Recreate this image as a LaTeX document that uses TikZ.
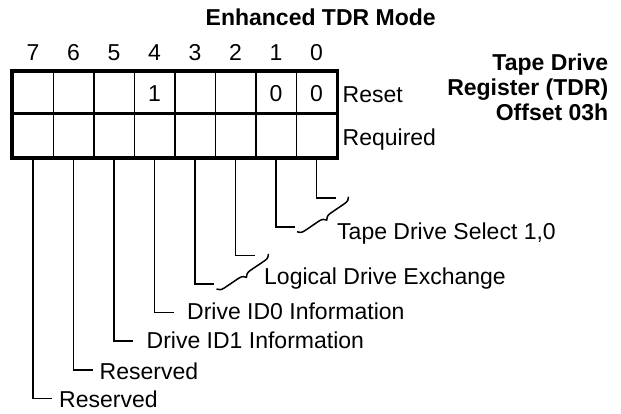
\documentclass[tikz,border=0pt]{standalone}
\usepackage{fontspec}
\setmainfont{Liberation Sans}
\usetikzlibrary{positioning}
\usetikzlibrary{calc}
\usetikzlibrary{decorations.pathreplacing}
\tikzset{
    % Thin rule for the cell walls and the bit leaders
    thin rule/.style={line width=1.5pt},
%
    % Heavy rule for the outline of the register
    heavy rule/.style={line width=3.5pt},
%
    % Curly brace pulling two bit leaders together
    leader brace/.style={thin rule, decorate,
        decoration={brace, amplitude=7pt}}}

\begin{document}
\begin{tikzpicture}[x=1pt, y=-1pt,
    bit cell/.style={draw, thin rule, anchor=north west, inner sep=0pt,
        minimum width=40.5pt, minimum height=42.7pt},
    bit number/.style={inner sep=0pt},
    field name/.style={anchor=base west, inner sep=0pt}]
\fontsize{23}{25}\selectfont
\useasboundingbox (0,0) rectangle (621,413);

% Headings over and beside the register
\node[anchor=base west, inner sep=0pt, font=\bfseries]
    at (205.5,25) (mode) {Enhanced TDR Mode};
\node[anchor=north east, align=right, inner sep=0pt, font=\bfseries]
    at (608.5,53.5) (tdr) {Tape Drive\\Register (TDR)\\Offset 03h};


% Two rows of eight bit cells, bit 7 on the left
\foreach \b/\v in {7/,6/,5/,4/1,3/,2/,1/0,0/0} {
    \node[bit cell] at ({12+40.5*(7-\b)},71) (reset \b) {\v};
    \node[bit cell] at ({12+40.5*(7-\b)},113.7) (req \b) {};
    \node[bit number, above=10pt of reset \b] (num \b) {\b};
}
\draw[heavy rule] (reset 7.north west) rectangle (req 0.south east);
\draw[heavy rule] (req 7.north west) -- (req 0.north east);

\node[field name] at ($(reset 0.east)+(5,9.5)$) (reset name) {Reset};
\node[field name] at ($(req 0.east)+(5,9.5)$) (req name) {Required};


% Leaders dropping from each bit
\foreach \b in {0,...,7} {
    \coordinate (turn \b) at ($(req \b.south)+(0,{40.3+28.6*\b})$);
    \coordinate (hook \b) at ($(turn \b)+(19,0)$);
    \draw[thin rule] (req \b.south) -- (turn \b) -- (hook \b);
}

\draw[leader brace] ($(hook 0)+(13,-1.5)$) -- ($(hook 1)+(2,5)$);
\draw[leader brace] ($(hook 2)+(14,-1.5)$) -- ($(hook 3)+(2.5,5)$);


% Names of the bit fields
\node[field name] at ($(hook 1)+(42,12.2)$) (select name)
    {Tape Drive Select 1,0};
\node[field name] at ($(hook 3)+(50,0.2)$) (exchange name)
    {Logical Drive Exchange};
\node[field name] at ($(hook 4)+(13.5,7)$) (id0 name)
    {Drive ID0 Information};
\node[field name] at ($(hook 5)+(13.5,7)$) (id1 name)
    {Drive ID1 Information};
\node[field name] at ($(hook 6)+(7,9.5)$) (res6 name) {Reserved};
\node[field name] at ($(hook 7)+(7,9.5)$) (res7 name) {Reserved};
\end{tikzpicture}
\end{document}
